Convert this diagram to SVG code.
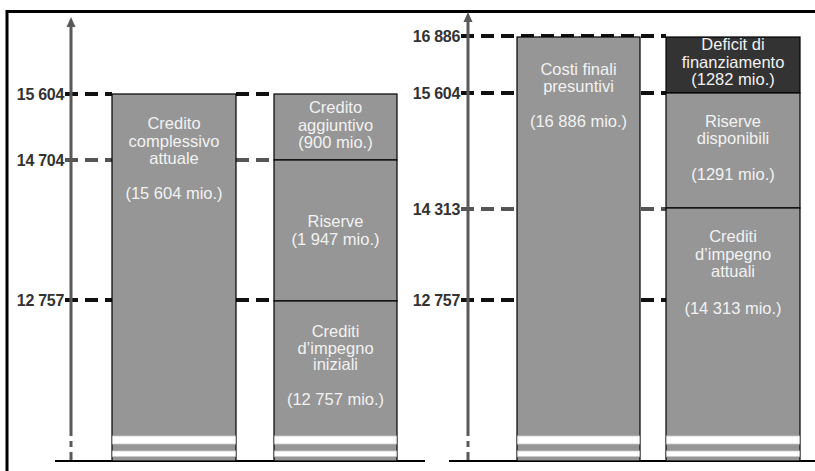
<svg xmlns="http://www.w3.org/2000/svg" width="815" height="471" viewBox="0 0 815 471">
<style>
.bar{fill:#969696;stroke:#000;stroke-width:1.2}
.dark{fill:#333;stroke:#000;stroke-width:1.2}
.t{font-family:"Liberation Sans",Arial,sans-serif;font-size:16.5px;fill:#f2f2f2;text-anchor:middle}
.lbl{font-family:"Liberation Sans",Arial,sans-serif;font-size:16px;font-weight:bold;fill:#333;text-anchor:end;letter-spacing:-0.3px}
.dk{stroke:#111;stroke-width:4;stroke-dasharray:13 7;fill:none}
.gr{stroke:#555;stroke-width:4;stroke-dasharray:13 7;fill:none}
.ax{stroke:#595959;stroke-width:3;fill:none}
.band{fill:#fff;stroke:#c8c8c8;stroke-width:0.8}
</style>
<rect width="815" height="471" fill="#fff"/>
<g id="frame">
<line x1="6" y1="11.5" x2="815" y2="11.5" stroke="#000" stroke-width="3"/>
<line x1="7" y1="10" x2="7" y2="471" stroke="#000" stroke-width="3"/>
</g>
<g id="connectors">
<path class="dk" d="M65 94H112M236 94H274"/>
<path class="gr" d="M65 160H112M236 160H274"/>
<path class="dk" d="M65 300H112M236 300H274"/>
<path class="dk" d="M461 36H666"/>
<path class="dk" d="M461 93H517M641 93H666"/>
<path class="gr" d="M461 209H517M641 209H666"/>
<path class="dk" d="M461 300H517M641 300H666"/>
</g>
<g id="axis-left">
<path class="ax" d="M71 25V436M71 441V447M71 452V461"/>
<polygon points="71,17 66.5,27 75.5,27" fill="#595959"/>
</g>
<g id="axis-right">
<path class="ax" d="M468 20V436M468 441V447M468 452V461"/>
<polygon points="468,12 463.5,22 472.5,22" fill="#595959"/>
</g>
<g id="baselines">
<line x1="55" y1="461" x2="425" y2="461" stroke="#000" stroke-width="2"/>
<line x1="449" y1="461" x2="815" y2="461" stroke="#000" stroke-width="2"/>
</g>
<g id="labels-left">
<text class="lbl" x="64" y="100">15 604</text>
<text class="lbl" x="64" y="166">14 704</text>
<text class="lbl" x="64" y="306">12 757</text>
</g>
<g id="labels-right">
<text class="lbl" x="460" y="42">16 886</text>
<text class="lbl" x="460" y="99">15 604</text>
<text class="lbl" x="460" y="215">14 313</text>
<text class="lbl" x="460" y="306">12 757</text>
</g>
<g id="credito-complessivo">
<rect class="bar" x="112" y="94" width="124" height="367"/>
<text class="t" x="174" y="129">Credito</text>
<text class="t" x="174" y="146.5">complessivo</text>
<text class="t" x="174" y="164">attuale</text>
<text class="t" x="174" y="199">(15 604 mio.)</text>
</g>
<g id="credito-aggiuntivo">
<rect class="bar" x="274" y="94" width="123" height="66"/>
<text class="t" x="335.5" y="113">Credito</text>
<text class="t" x="335.5" y="130.5">aggiuntivo</text>
<text class="t" x="335.5" y="148">(900 mio.)</text>
</g>
<g id="riserve">
<rect class="bar" x="274" y="160" width="123" height="141"/>
<text class="t" x="335.5" y="227">Riserve</text>
<text class="t" x="335.5" y="244.5">(1 947 mio.)</text>
</g>
<g id="crediti-iniziali">
<rect class="bar" x="274" y="301" width="123" height="160"/>
<text class="t" x="335.5" y="337">Crediti</text>
<text class="t" x="335.5" y="353.5">d’impegno</text>
<text class="t" x="335.5" y="370">iniziali</text>
<text class="t" x="335.5" y="405">(12 757 mio.)</text>
</g>
<g id="costi-finali">
<rect class="bar" x="517" y="37" width="123" height="424"/>
<text class="t" x="578.5" y="75">Costi finali</text>
<text class="t" x="578.5" y="92">presuntivi</text>
<text class="t" x="578.5" y="126.5">(16 886 mio.)</text>
</g>
<g id="deficit">
<rect class="dark" x="666" y="37" width="134" height="56"/>
<text class="t" x="733" y="50">Deficit di</text>
<text class="t" x="733" y="67.5">finanziamento</text>
<text class="t" x="733" y="85">(1282 mio.)</text>
</g>
<g id="riserve-disponibili">
<rect class="bar" x="666" y="93" width="134" height="115"/>
<text class="t" x="733" y="127">Riserve</text>
<text class="t" x="733" y="144">disponibili</text>
<text class="t" x="733" y="180">(1291 mio.)</text>
</g>
<g id="crediti-attuali">
<rect class="bar" x="666" y="208" width="134" height="253"/>
<text class="t" x="733" y="242">Crediti</text>
<text class="t" x="733" y="259.5">d’impegno</text>
<text class="t" x="733" y="277">attuali</text>
<text class="t" x="733" y="313.5">(14 313 mio.)</text>
</g>
<g id="breaks">
<rect class="band" x="112.6" y="436" width="122.8" height="8"/>
<rect class="band" x="112.6" y="451" width="122.8" height="5.5"/>
<rect class="band" x="274.6" y="436" width="121.8" height="8"/>
<rect class="band" x="274.6" y="451" width="121.8" height="5.5"/>
<rect class="band" x="517.6" y="436" width="121.8" height="8"/>
<rect class="band" x="517.6" y="451" width="121.8" height="5.5"/>
<rect class="band" x="666.6" y="436" width="132.8" height="8"/>
<rect class="band" x="666.6" y="451" width="132.8" height="5.5"/>
</g>
</svg>
